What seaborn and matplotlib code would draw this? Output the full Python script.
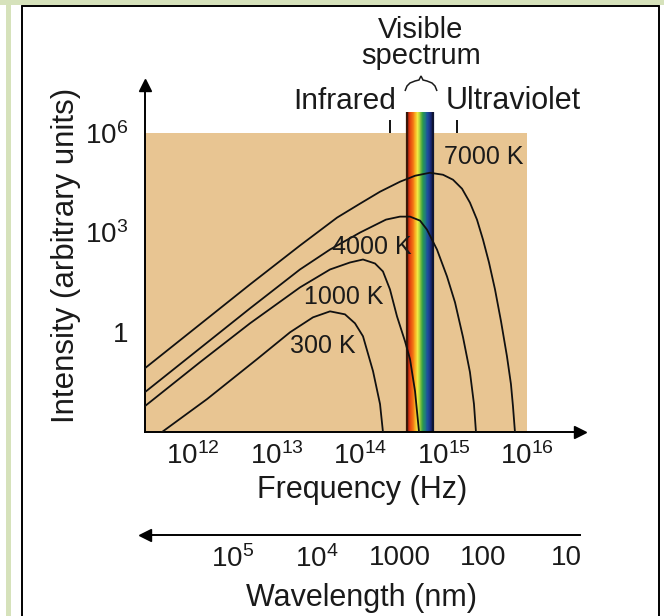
import numpy as np
import pandas as pd
import matplotlib
matplotlib.use("Agg")
import matplotlib.pyplot as plt
import seaborn as sns
from matplotlib.lines import Line2D
from matplotlib.patches import Rectangle, PathPatch
from matplotlib.path import Path
from matplotlib.colors import LinearSegmentedColormap

# ---------------- data ----------------
temperatures = ["300 K", "1000 K", "4000 K", "7000 K"]

logf_300 = [11.629, 12.168, 12.766, 13.162, 13.437, 13.641, 13.820, 13.940, 14.036, 14.156, 14.240, 14.275]
logI_300 = [-3.0, -2.01, -0.81, 0.00, 0.45, 0.63, 0.54, 0.27, -0.12, -1.17, -2.16, -3.0]

logf_1000 = [11.425, 12.084, 12.683, 13.281, 13.641, 13.880, 14.036, 14.180, 14.275, 14.359, 14.443, 14.539, 14.599, 14.659, 14.707]
logI_1000 = [-2.22, -0.90, 0.27, 1.35, 1.89, 2.10, 2.19, 2.07, 1.83, 1.29, 0.48, -0.27, -0.81, -1.77, -3.0]

logf_4000 = [11.425, 12.084, 12.683, 13.281, 13.641, 14.000, 14.311, 14.479, 14.599, 14.719, 14.802, 14.922, 15.042, 15.138, 15.234, 15.317, 15.365, 15.389]
logI_4000 = [-1.80, -0.48, 0.72, 1.89, 2.49, 3.00, 3.39, 3.48, 3.48, 3.36, 3.09, 2.49, 1.68, 0.90, -0.15, -1.20, -2.16, -3.0]

logf_7000 = [11.425, 12.084, 12.683, 13.281, 13.725, 14.000, 14.240, 14.479, 14.659, 14.838, 14.994, 15.114, 15.222, 15.317, 15.401, 15.473, 15.545, 15.617, 15.689, 15.760, 15.808, 15.832, 15.856]
logI_7000 = [-1.08, 0.24, 1.44, 2.61, 3.45, 3.87, 4.23, 4.53, 4.71, 4.80, 4.74, 4.59, 4.32, 3.90, 3.39, 2.79, 2.10, 1.29, 0.33, -0.72, -1.56, -2.22, -3.0]

freq_ticks = [1e12, 1e13, 1e14, 1e15, 1e16]
freq_ticklabels = [r"$\mathregular{10^{12}}$", r"$\mathregular{10^{13}}$", r"$\mathregular{10^{14}}$",
                   r"$\mathregular{10^{15}}$", r"$\mathregular{10^{16}}$"]
intensity_ticks = [1, 1e3, 1e6]
intensity_ticklabels = ["1", r"$\mathregular{10^{3}}$", r"$\mathregular{10^{6}}$"]
wavelength_ticks = [1e5, 1e4, 1e3, 1e2, 10]
wavelength_ticklabels = [r"$\mathregular{10^{5}}$", r"$\mathregular{10^{4}}$", "1000", "100", "10"]

visible_band_hz = [3.66e14, 7.48e14]
region_marks_hz = [2.29e14, 1.45e15]      # Infrared / Ultraviolet markers
shaded_region = [1e-3, 1e6, 1e16]           # I min, I max, f max
label_pos = {"300 K": (10**13.557, 10**-0.42), "1000 K": (10**13.808, 10**1.05),
             "4000 K": (10**14.144, 10**2.58), "7000 K": (10**15.485, 10**5.28)}

# ---------------- styling ----------------
sns.set_style("white")
plt.rcParams["font.family"] = ["Liberation Sans", "DejaVu Sans"]
plt.rcParams["mathtext.default"] = "regular"
TXT = "#1a1a1a"
TAN = "#e8c592"
GREEN = "#d6e2bb"

W, H = 664, 616
fig = plt.figure(figsize=(W / 100, H / 100), dpi=100)
fig.patch.set_facecolor("white")

def fx(x):
    return x / W

def fy(y):
    return 1 - y / H

# outer frame
fig.add_artist(Rectangle((0, fy(5)), 1, 5 / H, transform=fig.transFigure, color=GREEN, lw=0))
fig.add_artist(Rectangle((fx(6), 0), 4.5 / W, 1, transform=fig.transFigure, color=GREEN, lw=0))
for xs, ys in [([fx(22), fx(22)], [0, fy(6)]), ([fx(22), fx(659)], [fy(6), fy(6)]),
               ([fx(659), fx(659)], [0, fy(6)])]:
    fig.add_artist(Line2D(xs, ys, transform=fig.transFigure, color="black", lw=1.4))

# main axes
ax_l, ax_r, ax_b, ax_t = 145, 580, 432, 85
ax = fig.add_axes([fx(ax_l), fy(ax_b), (ax_r - ax_l) / W, (ax_b - ax_t) / H])
ax.patch.set_alpha(0)

rows = []
for name, lf, li in [("300 K", logf_300, logI_300), ("1000 K", logf_1000, logI_1000),
                     ("4000 K", logf_4000, logI_4000), ("7000 K", logf_7000, logI_7000)]:
    for a, b in zip(lf, li):
        rows.append({"T": name, "freq": 10 ** a, "intensity": 10 ** b})
df = pd.DataFrame(rows)

ax.set_xscale("log")
ax.set_yscale("log")
xmin, xmax = 10 ** 11.425, 10 ** 16.635
ymin, ymax = 1e-3, 10 ** 7.44
ax.set_xlim(xmin, xmax)
ax.set_ylim(ymin, ymax)

# tan background region
ax.add_patch(Rectangle((xmin, shaded_region[0]), shaded_region[2] - xmin,
                       shaded_region[1] - shaded_region[0], color=TAN, lw=0, zorder=0))

# visible spectrum band
spec_cmap = LinearSegmentedColormap.from_list(
    "spec",
    [(0.0, "#5a1a0c"), (0.07, "#d8300f"), (0.2, "#f06a12"), (0.3, "#f8a820"),
     (0.4, "#f6ec44"), (0.5, "#9ccc3c"), (0.6, "#2e9c48"), (0.7, "#1f7f7a"),
     (0.8, "#1e4e9c"), (0.92, "#1a2a78"), (1.0, "#101840")])
spec_top = 10 ** 6.63
edges = np.logspace(np.log10(visible_band_hz[0]), np.log10(visible_band_hz[1]), 61)
C = np.linspace(0, 1, 60).reshape(1, -1)
ax.pcolormesh(edges, [ymin, spec_top], C, cmap=spec_cmap, shading="flat", zorder=1, clip_on=False)
ax.vlines(visible_band_hz, ymin, spec_top, colors=["#3a1608", "#0e1434"], lw=1.6, zorder=1.5)

# curves
sns.lineplot(data=df, x="freq", y="intensity", hue="T", palette=["#111111"] * 4,
             estimator=None, sort=False, legend=False, lw=1.3, ax=ax, zorder=3)
ax.set_xlabel("")
ax.set_ylabel("")

for name, (px_, py_) in label_pos.items():
    ax.text(px_, py_, name, fontsize=18, color=TXT, ha="center", va="center", zorder=4)

# infrared / ultraviolet markers
ax.vlines(region_marks_hz, 1e6, 10 ** 6.39, colors="black", lw=1.3, clip_on=False)

# spines / ticks
for s in ["top", "right"]:
    ax.spines[s].set_visible(False)
for s in ["left", "bottom"]:
    ax.spines[s].set_color("black")
    ax.spines[s].set_linewidth(1.4)
ax.set_xticks(freq_ticks)
ax.set_xticklabels(freq_ticklabels)
ax.set_yticks(intensity_ticks)
ax.set_yticklabels(intensity_ticklabels)
ax.minorticks_off()
ax.tick_params(axis="x", direction="in", length=11, width=1.3, pad=7, labelsize=20, colors="black", labelcolor=TXT)
ax.tick_params(axis="y", direction="in", length=9, width=1.3, pad=12, labelsize=20, colors="black", labelcolor=TXT)
ax.plot([xmin], [ymax], marker="^", ms=8, color="black", clip_on=False, zorder=5)
ax.plot([xmax], [ymin], marker=">", ms=8, color="black", clip_on=False, zorder=5)

ax.set_ylabel("Intensity (arbitrary units)", fontsize=22.5, color=TXT)
ax.yaxis.set_label_coords(fx(66), fy(255), transform=fig.transFigure)
ax.yaxis.label.set_va("center")
ax.set_xlabel("Frequency (Hz)", fontsize=22, color=TXT)
ax.xaxis.set_label_coords(fx(362), fy(490), transform=fig.transFigure)
ax.xaxis.label.set_va("center")

# wavelength axis
c_nm = 2.998e17
ax2 = fig.add_axes([fx(ax_l), fy(535), (ax_r - ax_l) / W, 10 / H])
ax2.patch.set_alpha(0)
ax2.set_xscale("log")
ax2.set_xlim(c_nm / xmin, c_nm / xmax)
for s in ["top", "right", "left"]:
    ax2.spines[s].set_visible(False)
ax2.spines["bottom"].set_linewidth(1.4)
ax2.spines["bottom"].set_color("black")
ax2.set_yticks([])
ax2.set_xticks(wavelength_ticks)
ax2.set_xticklabels(wavelength_ticklabels)
ax2.minorticks_off()
ax2.tick_params(axis="x", direction="in", length=10, width=1.3, pad=7, labelsize=20, colors="black", labelcolor=TXT)
ax2.plot([c_nm / xmin], [0], marker="<", ms=8, color="black", clip_on=False, transform=ax2.get_xaxis_transform())
ax2.set_xlabel("Wavelength (nm)", fontsize=22, color=TXT)
ax2.xaxis.set_label_coords(fx(362), fy(598), transform=fig.transFigure)
ax2.xaxis.label.set_va("center")

# top annotations
fig.text(fx(421), fy(43), "Visible\nspectrum", fontsize=21, color=TXT, ha="center", va="center",
         multialignment="center", linespacing=0.95)
fig.text(fx(396), fy(101), "Infrared", fontsize=21.5, color=TXT, ha="right", va="center")
fig.text(fx(446), fy(101), "Ultraviolet", fontsize=22, color=TXT, ha="left", va="center")

# brace over the visible band
bx = [405, 407, 410, 415, 419, 421, 423, 427, 432, 435, 437]
by = [91, 86, 83, 81, 80, 76, 80, 81, 83, 86, 91]
verts = [(fx(a), fy(b)) for a, b in zip(bx, by)]
codes = [Path.MOVETO] + [Path.LINETO] * (len(verts) - 1)
fig.add_artist(PathPatch(Path(verts, codes), transform=fig.transFigure, fill=False, lw=1.1, color=TXT))

fig.savefig("out.png", dpi=100)
